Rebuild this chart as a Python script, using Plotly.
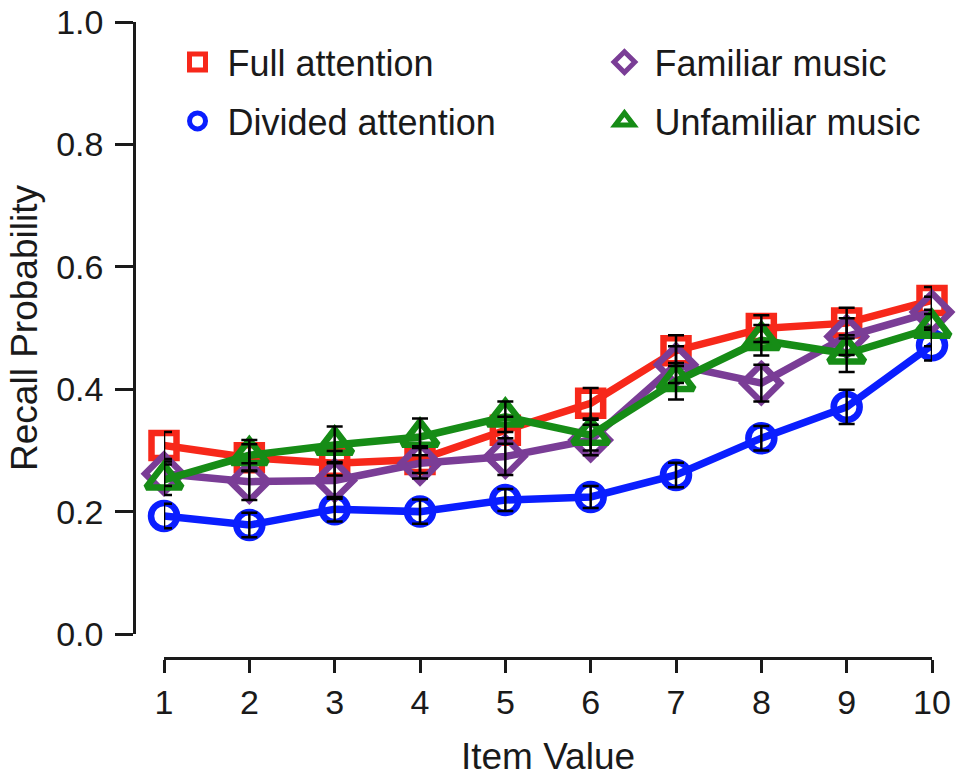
import plotly.graph_objects as go

item_values = [1, 2, 3, 4, 5, 6, 7, 8, 9, 10]

full_attention = [0.308, 0.288, 0.279, 0.285, 0.333, 0.377, 0.463, 0.499, 0.508, 0.545]
full_err = [0.022, 0.022, 0.020, 0.022, 0.022, 0.025, 0.025, 0.022, 0.025, 0.022]

divided_attention = [0.193, 0.178, 0.204, 0.200, 0.219, 0.224, 0.260, 0.320, 0.371, 0.472]
divided_err = [0.020, 0.020, 0.020, 0.020, 0.018, 0.018, 0.020, 0.020, 0.028, 0.025]

familiar_music = [0.262, 0.249, 0.251, 0.279, 0.290, 0.317, 0.440, 0.410, 0.486, 0.526]
familiar_err = [0.020, 0.030, 0.030, 0.025, 0.030, 0.025, 0.030, 0.030, 0.030, 0.025]

unfamiliar_music = [0.252, 0.292, 0.309, 0.322, 0.355, 0.325, 0.413, 0.480, 0.458, 0.500]
unfamiliar_err = [0.025, 0.025, 0.030, 0.030, 0.025, 0.025, 0.030, 0.025, 0.030, 0.030]

y_ticks = [0.0, 0.2, 0.4, 0.6, 0.8, 1.0]
y_tick_labels = ["0.0", "0.2", "0.4", "0.6", "0.8", "1.0"]

RED = "#f7281a"
BLUE = "#0a1eff"
PURPLE = "#7a3d96"
GREEN = "#168c16"

FONT = "Liberation Sans, Arial, sans-serif"
INK = "#1a1a1a"

series = [
    ("Full attention", full_attention, full_err, RED, "square-open", 25, "legend"),
    ("Divided attention", divided_attention, divided_err, BLUE, "circle-open", 26, "legend"),
    ("Familiar music", familiar_music, familiar_err, PURPLE, "diamond-open", 29, "legend2"),
    ("Unfamiliar music", unfamiliar_music, unfamiliar_err, GREEN, "triangle-up-open", 31, "legend2"),
]

fig = go.Figure()

# data lines + markers
for name, vals, err, col, sym, msize, lg in series:
    fig.add_trace(go.Scatter(
        x=item_values, y=vals, mode="lines+markers", name=name,
        line=dict(color=col, width=7.5),
        marker=dict(symbol=sym, size=msize, color=col, line=dict(color=col, width=6.5)),
        showlegend=False, cliponaxis=False,
    ))

# error bars drawn on top
for name, vals, err, col, sym, msize, lg in series:
    fig.add_trace(go.Scatter(
        x=item_values, y=vals, mode="markers",
        marker=dict(size=1, color="rgba(0,0,0,0)"),
        error_y=dict(type="data", array=err, visible=True, color="black",
                     thickness=2.5, width=8),
        showlegend=False, hoverinfo="skip", cliponaxis=False,
    ))

# legend entries (markers only)
for name, vals, err, col, sym, msize, lg in series:
    fig.add_trace(go.Scatter(
        x=[None], y=[None], mode="markers", name=name,
        marker=dict(symbol=sym, size=16, color=col, line=dict(color=col, width=5)),
        legend=lg, legendgroup=name, showlegend=True,
    ))

legend_style = dict(
    font=dict(family=FONT, size=36, color=INK),
    bgcolor="rgba(0,0,0,0)", borderwidth=0,
    xanchor="left", yanchor="top",
    tracegroupgap=9, traceorder="grouped", itemsizing="trace",
    itemwidth=50,
)

fig.update_layout(
    width=960, height=779,
    margin=dict(l=134, r=28, t=22, b=121, autoexpand=False),
    paper_bgcolor="white", plot_bgcolor="white",
    font=dict(family=FONT, size=34, color=INK),
    showlegend=True,
    legend=dict(x=0.042, y=0.984, **legend_style),
    legend2=dict(x=0.577, y=0.984, **legend_style),
    xaxis=dict(
        domain=[0.0376, 1.0], range=[1, 10], anchor="free", position=0,
        tickmode="array", tickvals=item_values, ticktext=[str(v) for v in item_values],
        showline=True, linecolor=INK, linewidth=2.5,
        ticks="outside", ticklen=13, tickwidth=2.5, tickcolor=INK,
        showgrid=False, zeroline=False, automargin=False,
        ticklabeloverflow="allow",
        title=dict(text="Item Value", font=dict(size=37), standoff=23),
        tickfont=dict(size=34),
    ),
    yaxis=dict(
        domain=[0.0377, 1.0], range=[0, 1], anchor="free", position=0,
        tickmode="array", tickvals=y_ticks, ticktext=y_tick_labels,
        showline=True, linecolor=INK, linewidth=2.5,
        ticks="outside", ticklen=18, tickwidth=2.5, tickcolor=INK,
        showgrid=False, zeroline=False, automargin=False,
        ticklabelstandoff=5, ticklabeloverflow="allow",
        title=dict(text="Recall Probability", font=dict(size=37), standoff=6),
        tickfont=dict(size=34),
    ),
)

fig.write_html("out.html", config={"displayModeBar": False},
               post_script="document.body.style.margin='0';")
